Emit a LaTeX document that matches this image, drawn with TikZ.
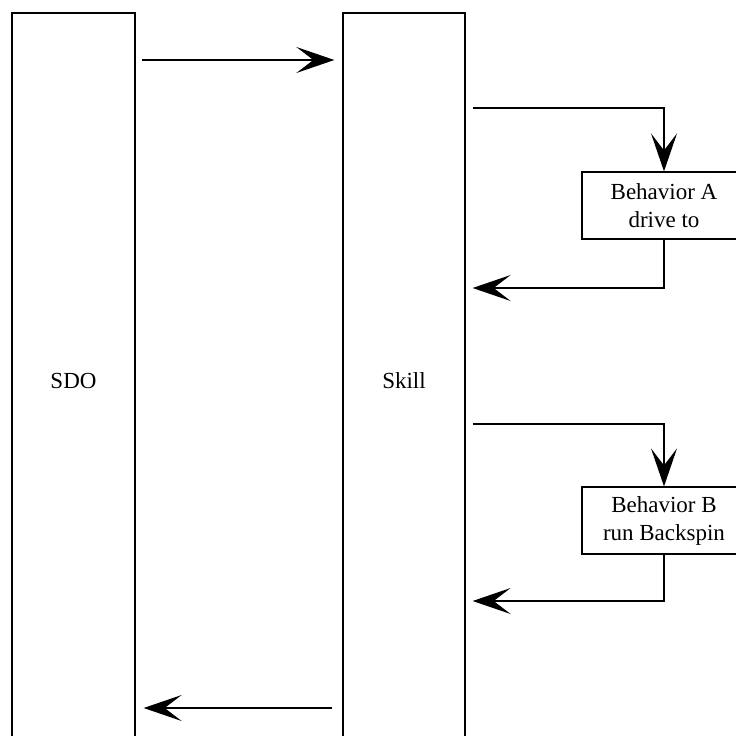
\documentclass[tikz,border=0pt]{standalone}
\usepackage{fontspec}
\setmainfont{Liberation Serif}
\usepackage{tikz}
\usetikzlibrary{arrows.meta}

\tikzset{
  lane/.style={draw, line width=1.3pt, minimum width=123pt, minimum height=736pt, inner sep=0pt},
  behbox/.style={draw, line width=1.2pt, minimum width=164pt, minimum height=67pt, align=center, inner sep=0pt},
  call/.style={->, line width=1.2pt}
}

\begin{document}
\begin{tikzpicture}[x=1pt, y=-1pt, >={Stealth[length=38pt, width=26pt, inset=17pt]},
    font=\fontsize{23}{28}\selectfont]
  \useasboundingbox (0,0) rectangle (736,736);
  \clip (0,0) rectangle (736,736);
  % Spalten
  \node[lane] (sdo) at (73.5,381) {SDO};
  \node[lane, minimum width=122pt] (skill) at (404,381) {Skill};
  % Verhalten
  \node[behbox] (behA) at (664,205.5) {Behavior A\\drive to};
  \node[behbox] (behB) at (664,520.5) {Behavior B\\run Backspin};
  % Aufrufe
  \draw[call, shorten <=6pt, shorten >=8pt] (sdo.east |- 0,60) -- (skill.west |- 0,60);
  \draw[call, shorten <=7pt] (skill.east |- 0,108) -| (behA.north);
  \draw[call, shorten >=7pt] (behA.south) |- (skill.east |- 0,288);
  \draw[call, shorten <=7pt] (skill.east |- 0,424) -| (behB.north);
  \draw[call, shorten >=7pt] (behB.south) |- (skill.east |- 0,601);
  \draw[call, shorten <=10pt, shorten >=8pt] (skill.west |- 0,708) -- (sdo.east |- 0,708);
\end{tikzpicture}
\end{document}
